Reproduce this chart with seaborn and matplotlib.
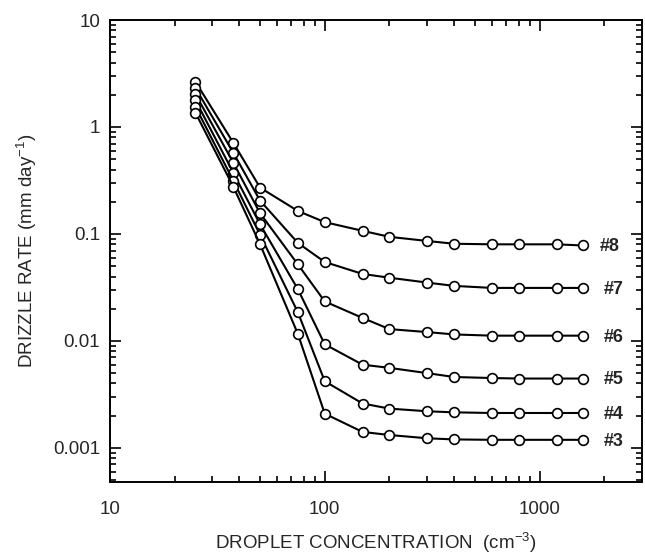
import numpy as np
import pandas as pd
import matplotlib
matplotlib.use('Agg')
import matplotlib.pyplot as plt
from matplotlib.ticker import LogLocator, FuncFormatter, NullFormatter
import seaborn as sns

# droplet concentration (cm-3)
conc = [25, 37.5, 50, 75, 100, 150, 200, 300, 400, 600, 800, 1200, 1600]

# drizzle rate (mm/day) for each case
rate_8 = [2.65, 0.713, 0.271, 0.164, 0.129, 0.107, 0.094, 0.086, 0.081, 0.080, 0.080, 0.080, 0.078]
rate_7 = [2.32, 0.575, 0.205, 0.0824, 0.0547, 0.0423, 0.039, 0.0351, 0.0327, 0.0313, 0.0313, 0.0313, 0.0313]
rate_6 = [2.03, 0.464, 0.156, 0.0519, 0.0234, 0.0164, 0.0129, 0.0121, 0.0115, 0.0112, 0.0112, 0.0112, 0.0112]
rate_5 = [1.78, 0.374, 0.123, 0.0304, 0.0093, 0.0060, 0.0056, 0.0050, 0.0046, 0.0045, 0.00445, 0.00445, 0.00445]
rate_4 = [1.55, 0.315, 0.098, 0.0185, 0.0042, 0.0026, 0.00233, 0.0022, 0.00215, 0.00212, 0.00212, 0.00212, 0.00212]
rate_3 = [1.36, 0.277, 0.080, 0.0116, 0.00209, 0.00141, 0.00132, 0.00123, 0.0012, 0.00119, 0.00119, 0.00119, 0.00119]

case_names = ['#8', '#7', '#6', '#5', '#4', '#3']
case_rates = [rate_8, rate_7, rate_6, rate_5, rate_4, rate_3]

sns.set_theme(style='ticks')
plt.rcParams['font.family'] = ['Liberation Sans', 'DejaVu Sans']
plt.rcParams['mathtext.fontset'] = 'custom'
plt.rcParams['mathtext.rm'] = 'Liberation Sans'
plt.rcParams['mathtext.it'] = 'Liberation Sans:italic'

fig = plt.figure(figsize=(6.45, 5.56), dpi=100)
ax = fig.add_axes([0.1705, 0.1331, 0.8248, 0.8309])

for name, rates in zip(case_names, case_rates):
    df = pd.DataFrame({'conc': conc, 'rate': rates})
    sns.lineplot(data=df, x='conc', y='rate', ax=ax, color='black', linewidth=1.5,
                 marker='o', markersize=7, markerfacecolor='white',
                 markeredgecolor='black', markeredgewidth=1.2, estimator=None)
    ax.annotate(name, xy=(conc[-1], rates[-1]), xytext=(12 if name == '#8' else 15, -1),
                textcoords='offset points', ha='left', va='center',
                fontsize=13, fontweight='bold')

ax.set_xscale('log')
ax.set_yscale('log')
ax.set_xlim(10, 3000)
ax.set_ylim(4.8e-4, 10)

fmt = FuncFormatter(lambda v, p: '{:g}'.format(v))
for axis in (ax.xaxis, ax.yaxis):
    axis.set_major_locator(LogLocator(base=10, numticks=10))
    axis.set_minor_locator(LogLocator(base=10, subs=np.arange(2, 10), numticks=20))
    axis.set_major_formatter(fmt)
    axis.set_minor_formatter(NullFormatter())

ax.tick_params(which='both', direction='in', top=True, right=True, color='black', width=1.2)
ax.tick_params(which='major', length=8, labelsize=13.5)
ax.tick_params(axis='x', which='major', pad=14)
ax.tick_params(axis='y', which='major', pad=7)
ax.tick_params(which='minor', length=4)
for sp in ax.spines.values():
    sp.set_color('black')
    sp.set_linewidth(1.4)

ax.set_xlabel('DROPLET CONCENTRATION  (cm$^{\\mathrm{-3}}$)', fontsize=13.5, labelpad=9)
ax.set_ylabel('DRIZZLE RATE (mm day$^{\\mathrm{-1}}$)', fontsize=13.5, labelpad=10)

fig.savefig('out.png', dpi=100, facecolor='white')
